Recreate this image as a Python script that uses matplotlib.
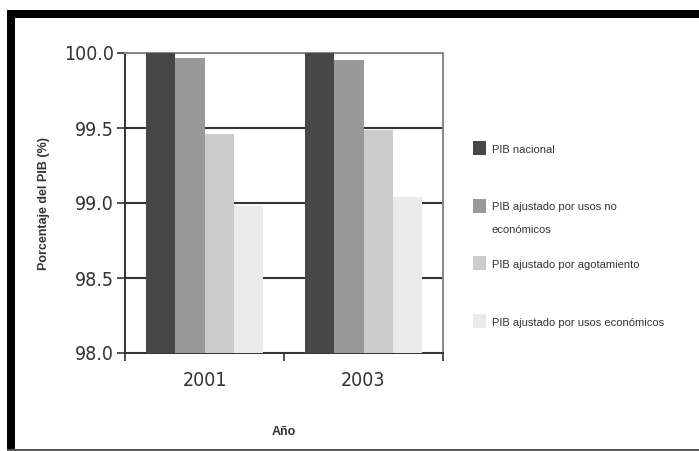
"""
PIB ajustado, 2001 y 2003 (porcentaje del PIB nacional).
"""

import numpy as np
import matplotlib.pyplot as plt
from matplotlib.patches import Rectangle

years = ['2001', '2003']
series = [
    'PIB nacional',
    'PIB ajustado por usos no\neconómicos',
    'PIB ajustado por agotamiento',
    'PIB ajustado por usos económicos',
]
pib_nacional = [100.0, 100.0]
pib_usos_no_econ = [99.97, 99.95]
pib_agotamiento = [99.46, 99.49]
pib_usos_econ = [98.98, 99.04]

colors = ['#474747', '#999999', '#cccccc', '#eaeaea']
yticks = [98.0, 98.5, 99.0, 99.5, 100.0]


def main():
    plt.rcParams['font.family'] = ['Liberation Sans', 'DejaVu Sans']

    fig = plt.figure(figsize=(6.99, 4.51), dpi=100)
    ax = fig.add_axes([125 / 699, 1 - 353 / 451, 318 / 699, 300 / 451])

    values = [pib_nacional, pib_usos_no_econ, pib_agotamiento, pib_usos_econ]
    x = np.arange(len(years))
    width = 0.185
    bottom = 98.0
    for i, (vals, c) in enumerate(zip(values, colors)):
        offs = (i - 1.5) * width
        ax.bar(x + offs, np.array(vals) - bottom, width, bottom=bottom,
               color=c, zorder=3, linewidth=0)

    ax.set_xlim(-0.5, 1.5)
    ax.set_ylim(98.0, 100.0)
    ax.set_yticks(yticks)
    ax.set_yticklabels([f'{v:.1f}' for v in yticks])
    ax.set_xticks(x)
    ax.set_xticklabels(years)
    # category separators as tick marks
    ax.set_xticks([-0.5, 0.5, 1.5], minor=True)
    ax.tick_params(axis='x', which='major', length=0, pad=13, labelsize=14,
                   labelcolor='#333333')
    ax.tick_params(axis='x', which='minor', length=6, width=1.2,
                   color='#333333', direction='out')
    ax.tick_params(axis='y', length=6, width=1.2, color='#333333',
                   direction='out', labelsize=14, labelcolor='#333333', pad=2)
    for t in ax.get_xticklabels() + ax.get_yticklabels():
        t.set_family(['DejaVu Sans'])
        t.set_fontstretch('condensed')

    ax.yaxis.grid(True, color='#333333', linewidth=1.5, zorder=0)
    ax.set_axisbelow(True)
    for side in ['left', 'bottom']:
        ax.spines[side].set_color('#333333')
        ax.spines[side].set_linewidth(1.4)
    for side in ['top', 'right']:
        ax.spines[side].set_color('#888888')
        ax.spines[side].set_linewidth(1.4)

    ax.set_ylabel('Porcentaje del PIB (%)', fontsize=9, fontweight='bold',
                  color='#333333', labelpad=10)
    ax.set_xlabel('Año', fontsize=9, fontweight='bold', color='#333333',
                  labelpad=26)

    # legend, drawn by hand to keep the wide spacing of the original
    sq_y = [148, 205.5, 262.5, 320.5]
    for c, lab, yc in zip(colors, series, sq_y):
        fig.add_artist(Rectangle((473 / 699, 1 - (yc + 7) / 451), 13 / 699, 14 / 451,
                                 transform=fig.transFigure, color=c, lw=0))
        for k, line in enumerate(lab.split('\n')):
            fig.text(492 / 699, 1 - (yc + 2 + 22 * k) / 451, line, fontsize=8,
                     color='#333333', va='center', ha='left')

    # outer frame: thick black top and left, thin gray bottom
    fig.add_artist(Rectangle((7 / 699, 1 - 18 / 451), 1 - 7 / 699, 8 / 451,
                             transform=fig.transFigure, color='black', lw=0))
    fig.add_artist(Rectangle((7 / 699, 0), 8 / 699, 1 - 10 / 451,
                             transform=fig.transFigure, color='black', lw=0))
    fig.add_artist(Rectangle((7 / 699, 0), 1, 2 / 451,
                             transform=fig.transFigure, color='#555555', lw=0))

    fig.savefig('out.png', dpi=100)
    plt.close(fig)


if __name__ == '__main__':
    main()
